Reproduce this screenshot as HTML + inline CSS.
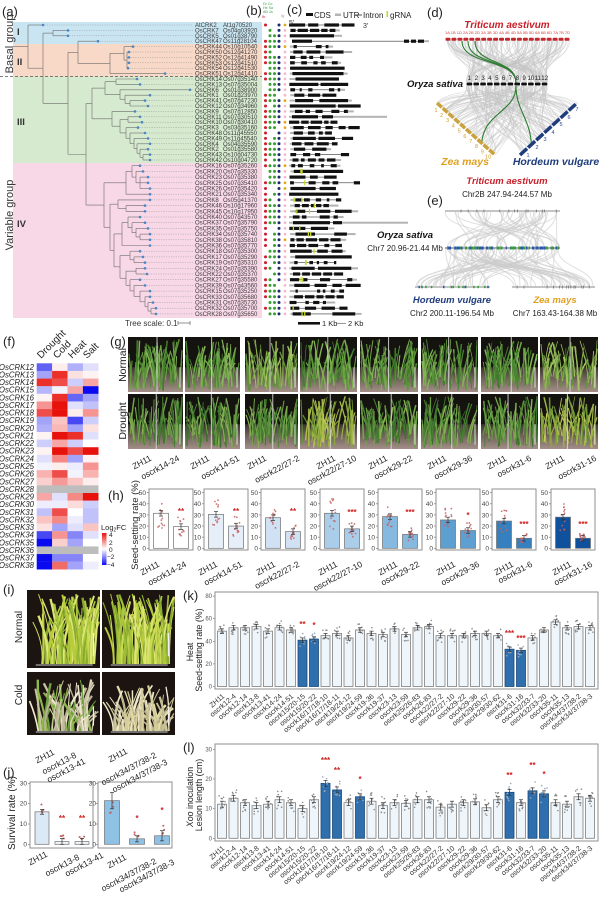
<!DOCTYPE html>
<html><head><meta charset="utf-8"><title>Figure</title>
<style>
html,body{margin:0;padding:0;background:#fff;width:600px;height:898px;overflow:hidden}
svg{display:block}
text{font-family:"Liberation Sans",Arial,sans-serif}
</style></head><body>
<svg id="s" xmlns="http://www.w3.org/2000/svg" width="600" height="898" viewBox="0 0 600 898">
<defs>
<linearGradient id="soil" x1="0" y1="0" x2="0" y2="1"><stop offset="0" stop-color="#3a342e"/><stop offset="0.45" stop-color="#6f625a"/><stop offset="1" stop-color="#a38f88"/></linearGradient>
<linearGradient id="lg" x1="0" y1="0" x2="0" y2="1"><stop offset="0" stop-color="#e8120c"/><stop offset="0.5" stop-color="#ffffff"/><stop offset="1" stop-color="#0a0af5"/></linearGradient>
</defs>
<rect width="600" height="898" fill="#fff"/>
<rect x="13" y="22" width="249" height="22" fill="#c9e5f2"/>
<rect x="13" y="44" width="249" height="32.5" fill="#f8d8c6"/>
<rect x="13" y="76.5" width="249" height="86.5" fill="#d6eacf"/>
<rect x="13" y="163" width="249" height="155" fill="#f8d8e6"/>
<line x1="0" y1="76.5" x2="262" y2="76.5" stroke="#555" stroke-width="0.8" stroke-dasharray="3,2"/>
<g id="g"></g>

<!-- panel letters -->
<g font-size="13" fill="#222">
<text x="2" y="16">(a)</text><text x="246" y="15">(b)</text><text x="287" y="14">(c)</text>
<text x="427" y="17">(d)</text><text x="427" y="205">(e)</text><text x="3" y="346">(f)</text>
<text x="110" y="346">(g)</text><text x="108" y="500">(h)</text><text x="3" y="594">(i)</text>
<text x="3" y="777">(j)</text><text x="183" y="600">(k)</text><text x="183" y="752">(l)</text>
</g>

<!-- (a) labels -->
<text transform="translate(13,44) rotate(-90)" text-anchor="middle" font-size="11" fill="#333">Basal group</text>
<text transform="translate(13,215) rotate(-90)" text-anchor="middle" font-size="11" fill="#333">Variable group</text>
<g font-size="9.5" font-weight="bold" fill="#333">
<text x="17" y="35">I</text><text x="17" y="65">II</text><text x="17" y="125">III</text><text x="17" y="227">IV</text>
</g>
<g font-size="6" fill="#3a3a3a">
<text y="27.0"><tspan x="195">AtCRK2</tspan><tspan x="223">At1g70520</tspan></text>
<text y="32.4"><tspan x="195">OsCRK7</tspan><tspan x="223">Os04g03920</tspan></text>
<text y="37.8"><tspan x="195">OsCRK5</tspan><tspan x="223">Os01g38790</tspan></text>
<text y="43.2"><tspan x="195">OsCRK47</tspan><tspan x="223">Os11g28104</tspan></text>
<text y="48.6"><tspan x="195">OsCRK44</tspan><tspan x="223">Os10g10540</tspan></text>
<text y="54.0"><tspan x="195">OsCRK50</tspan><tspan x="223">Os12g41270</tspan></text>
<text y="59.4"><tspan x="195">OsCRK52</tspan><tspan x="223">Os12g41490</tspan></text>
<text y="64.8"><tspan x="195">OsCRK53</tspan><tspan x="223">Os12g41510</tspan></text>
<text y="70.2"><tspan x="195">OsCRK54</tspan><tspan x="223">Os12g41530</tspan></text>
<text y="75.6"><tspan x="195">OsCRK51</tspan><tspan x="223">Os12g41410</tspan></text>
<text y="81.0"><tspan x="195">OsCRK14</tspan><tspan x="223">Os07g35140</tspan></text>
<text y="86.4"><tspan x="195">OsCRK13</tspan><tspan x="223">Os07g35004</tspan></text>
<text y="91.8"><tspan x="195">OsCRK6</tspan><tspan x="223">Os01g38900</tspan></text>
<text y="97.2"><tspan x="195">OsCRK1</tspan><tspan x="223">Os01g23970</tspan></text>
<text y="102.6"><tspan x="195">OsCRK41</tspan><tspan x="223">Os07g47230</tspan></text>
<text y="108.0"><tspan x="195">OsCRK12</tspan><tspan x="223">Os07g34960</tspan></text>
<text y="113.4"><tspan x="195">OsCRK9</tspan><tspan x="223">Os07g12850</tspan></text>
<text y="118.8"><tspan x="195">OsCRK11</tspan><tspan x="223">Os07g30510</tspan></text>
<text y="124.2"><tspan x="195">OsCRK10</tspan><tspan x="223">Os07g30410</tspan></text>
<text y="129.6"><tspan x="195">OsCRK3</tspan><tspan x="223">Os03g35160</tspan></text>
<text y="135.0"><tspan x="195">OsCRK48</tspan><tspan x="223">Os11g45550</tspan></text>
<text y="140.4"><tspan x="195">OsCRK49</tspan><tspan x="223">Os11g45540</tspan></text>
<text y="145.8"><tspan x="195">OsCRK4</tspan><tspan x="223">Os04g35590</tspan></text>
<text y="151.2"><tspan x="195">OsCRK2</tspan><tspan x="223">Os01g35580</tspan></text>
<text y="156.6"><tspan x="195">OsCRK43</tspan><tspan x="223">Os10g04730</tspan></text>
<text y="162.0"><tspan x="195">OsCRK42</tspan><tspan x="223">Os10g04720</tspan></text>
<text y="167.7"><tspan x="195">OsCRK16</tspan><tspan x="223">Os07g35260</tspan></text>
<text y="173.4"><tspan x="195">OsCRK20</tspan><tspan x="223">Os07g35330</tspan></text>
<text y="179.1"><tspan x="195">OsCRK23</tspan><tspan x="223">Os07g35380</tspan></text>
<text y="184.8"><tspan x="195">OsCRK25</tspan><tspan x="223">Os07g35410</tspan></text>
<text y="190.5"><tspan x="195">OsCRK26</tspan><tspan x="223">Os07g35420</tspan></text>
<text y="196.2"><tspan x="195">OsCRK21</tspan><tspan x="223">Os07g35340</tspan></text>
<text y="201.9"><tspan x="195">OsCRK8</tspan><tspan x="223">Os05g41370</tspan></text>
<text y="207.6"><tspan x="195">OsCRK46</tspan><tspan x="223">Os10g17960</tspan></text>
<text y="213.3"><tspan x="195">OsCRK45</tspan><tspan x="223">Os10g17950</tspan></text>
<text y="219.0"><tspan x="195">OsCRK40</tspan><tspan x="223">Os07g43570</tspan></text>
<text y="224.7"><tspan x="195">OsCRK37</tspan><tspan x="223">Os07g35790</tspan></text>
<text y="230.4"><tspan x="195">OsCRK35</tspan><tspan x="223">Os07g35750</tspan></text>
<text y="236.1"><tspan x="195">OsCRK34</tspan><tspan x="223">Os07g35740</tspan></text>
<text y="241.8"><tspan x="195">OsCRK38</tspan><tspan x="223">Os07g35810</tspan></text>
<text y="247.5"><tspan x="195">OsCRK36</tspan><tspan x="223">Os07g35770</tspan></text>
<text y="253.2"><tspan x="195">OsCRK18</tspan><tspan x="223">Os07g35300</tspan></text>
<text y="258.9"><tspan x="195">OsCRK17</tspan><tspan x="223">Os07g35290</tspan></text>
<text y="264.6"><tspan x="195">OsCRK19</tspan><tspan x="223">Os07g35310</tspan></text>
<text y="270.3"><tspan x="195">OsCRK24</tspan><tspan x="223">Os07g35390</tspan></text>
<text y="276.0"><tspan x="195">OsCRK22</tspan><tspan x="223">Os07g35370</tspan></text>
<text y="281.7"><tspan x="195">OsCRK27</tspan><tspan x="223">Os07g35580</tspan></text>
<text y="287.4"><tspan x="195">OsCRK39</tspan><tspan x="223">Os07g43560</tspan></text>
<text y="293.1"><tspan x="195">OsCRK15</tspan><tspan x="223">Os07g35250</tspan></text>
<text y="298.8"><tspan x="195">OsCRK33</tspan><tspan x="223">Os07g35680</tspan></text>
<text y="304.5"><tspan x="195">OsCRK31</tspan><tspan x="223">Os07g35730</tspan></text>
<text y="310.2"><tspan x="195">OsCRK32</tspan><tspan x="223">Os07g35700</tspan></text>
<text y="315.9"><tspan x="195">OsCRK28</tspan><tspan x="223">Os07g35650</tspan></text>
</g>
<text x="125" y="326" font-size="8" fill="#333">Tree scale: 0.1</text>
<line x1="178" y1="323" x2="190" y2="323" stroke="#777" stroke-width="0.8"/>
<line x1="178" y1="321" x2="178" y2="325" stroke="#777" stroke-width="0.8"/>
<line x1="190" y1="321" x2="190" y2="325" stroke="#777" stroke-width="0.8"/>

<!-- (b) header -->
<g font-size="3.6" fill="#3aa04a">
<text x="263" y="5">Dr Co</text><text x="263" y="9">He Sa</text><text x="263" y="13">AB Ja</text>
</g>
<text x="262" y="18" font-size="4" fill="#d02030">Ib</text>
<text x="281" y="17" font-size="4" fill="#c090a0">Ig</text>

<!-- (c) legend -->
<text x="289" y="25" font-size="7" fill="#333">5'</text>
<rect x="306" y="13" width="7" height="3" fill="#111"/>
<text x="314" y="18" font-size="8" fill="#222">CDS</text>
<rect x="335" y="13.5" width="6" height="2.5" fill="#b3b3b3"/>
<text x="343" y="18" font-size="8" fill="#222">UTR</text>
<line x1="355" y1="15" x2="362" y2="15" stroke="#222" stroke-width="0.8"/>
<text x="363" y="18" font-size="8" fill="#222">Intron</text>
<text x="363" y="28" font-size="7" fill="#333">3'</text>
<rect x="386.5" y="11" width="1.6" height="6" fill="#c6d62e"/>
<text x="390" y="18" font-size="8" fill="#222">gRNA</text>
<rect x="298" y="322" width="22" height="2.6" fill="#111"/>
<text x="322" y="326" font-size="7.5" fill="#222">1 Kb</text>
<line x1="336" y1="323.3" x2="346" y2="323.3" stroke="#666" stroke-width="0.7"/>
<text x="348" y="326" font-size="7.5" fill="#222">2 Kb</text>

<!-- (d) text -->
<text x="507" y="28" text-anchor="middle" font-size="10" font-weight="bold" font-style="italic" fill="#c8202a">Triticum aestivum</text>
<text x="445" y="34" font-size="3.6" fill="#d04040" textLength="125" lengthAdjust="spacingAndGlyphs">1A 1B 1D 2A 2B 2D 3A 3B 3D 4A 4B 4D 5A 5B 5D 6A 6B 6D 7A 7B 7D</text>
<text x="463" y="87" text-anchor="end" font-size="9.5" font-weight="bold" font-style="italic" fill="#111">Oryza sativa</text>
<text y="80" font-size="6.2" text-anchor="middle" fill="#222"><tspan x="469.4">1</tspan><tspan x="476.3">2</tspan><tspan x="483.1">3</tspan><tspan x="489.9">4</tspan><tspan x="496.8">5</tspan><tspan x="503.6">6</tspan><tspan x="510.4">7</tspan><tspan x="517.3">8</tspan><tspan x="524.1">9</tspan><tspan x="530.9">10</tspan><tspan x="537.8">11</tspan><tspan x="544.6">12</tspan></text>
<g font-size="5.5" fill="#d49a2a" text-anchor="middle">
<text x="436" y="112">1</text><text x="441.7" y="117">2</text><text x="447.5" y="122">3</text><text x="453.3" y="127.5">4</text><text x="459.1" y="132.5">5</text><text x="464.9" y="138">6</text><text x="470.7" y="143">7</text><text x="476.5" y="148">8</text><text x="482.3" y="153.5">9</text><text x="488.1" y="158.5">10</text>
</g>
<g font-size="5.5" fill="#2a4a8a" text-anchor="middle">
<text x="528" y="157">1</text><text x="537" y="149">2</text><text x="545" y="141">3</text><text x="553" y="134">4</text><text x="561" y="126">5</text><text x="569" y="119">6</text><text x="577" y="111">7</text>
</g>
<text x="465" y="165" text-anchor="middle" font-size="10.5" font-weight="bold" font-style="italic" fill="#e0a020">Zea mays</text>
<text x="556" y="165" text-anchor="middle" font-size="10.5" font-weight="bold" font-style="italic" fill="#1f3c7c">Hordeum vulgare</text>

<!-- (e) text -->
<text x="507" y="184" text-anchor="middle" font-size="9.5" font-weight="bold" font-style="italic" fill="#c8202a">Triticum aestivum</text>
<text x="507" y="197" text-anchor="middle" font-size="8" fill="#222">Chr2B 247.94-244.57 Mb</text>
<text x="405" y="238" text-anchor="middle" font-size="9.5" font-weight="bold" font-style="italic" fill="#111">Oryza sativa</text>
<text x="405" y="251" text-anchor="middle" font-size="8" fill="#222">Chr7 20.96-21.44 Mb</text>
<text x="452" y="303" text-anchor="middle" font-size="9.5" font-weight="bold" font-style="italic" fill="#1f3c7c">Hordeum vulgare</text>
<text x="452" y="316" text-anchor="middle" font-size="8" fill="#222">Chr2 200.11-196.54 Mb</text>
<text x="555" y="303" text-anchor="middle" font-size="9.5" font-weight="bold" font-style="italic" fill="#e0a020">Zea mays</text>
<text x="555" y="316" text-anchor="middle" font-size="8" fill="#222">Chr7 163.43-164.38 Mb</text>

<!-- (f) heatmap labels -->
<g font-size="10" fill="#222">
<text transform="translate(41,359) rotate(-45)">Drought</text>
<text transform="translate(57,359) rotate(-45)">Cold</text>
<text transform="translate(72,359) rotate(-45)">Heat</text>
<text transform="translate(87,359) rotate(-45)">Salt</text>
</g>
<g font-size="7.8" font-style="italic" fill="#222" text-anchor="end">
<text x="34" y="369.8">OsCRK12</text><text x="34" y="377.4">OsCRK13</text><text x="34" y="385.1">OsCRK14</text><text x="34" y="392.7">OsCRK15</text>
<text x="34" y="400.3">OsCRK16</text><text x="34" y="408.0">OsCRK17</text><text x="34" y="415.6">OsCRK18</text><text x="34" y="423.2">OsCRK19</text>
<text x="34" y="430.8">OsCRK20</text><text x="34" y="438.5">OsCRK21</text><text x="34" y="446.1">OsCRK22</text><text x="34" y="453.7">OsCRK23</text>
<text x="34" y="461.4">OsCRK24</text><text x="34" y="469.0">OsCRK25</text><text x="34" y="476.6">OsCRK26</text><text x="34" y="484.3">OsCRK27</text>
<text x="34" y="491.9">OsCRK28</text><text x="34" y="499.5">OsCRK29</text><text x="34" y="507.1">OsCRK30</text><text x="34" y="514.8">OsCRK31</text>
<text x="34" y="522.4">OsCRK32</text><text x="34" y="530.0">OsCRK33</text><text x="34" y="537.7">OsCRK34</text><text x="34" y="545.3">OsCRK35</text>
<text x="34" y="552.9">OsCRK36</text><text x="34" y="560.6">OsCRK37</text><text x="34" y="568.2">OsCRK38</text>
</g>
<text x="101" y="530" font-size="7.5" fill="#222">Log<tspan font-size="5" dy="1.5">2</tspan><tspan dy="-1.5">FC</tspan></text>
<rect x="102" y="533" width="4.5" height="32" fill="url(#lg)"/>
<g font-size="6.5" fill="#222">
<text x="109" y="537">4</text><text x="109" y="545">2</text><text x="109" y="552">0</text><text x="107" y="559">−2</text><text x="107" y="567">−4</text>
</g>

<!-- (g) labels -->
<text transform="translate(126,365) rotate(-90)" text-anchor="middle" font-size="10.5" fill="#222">Normal</text>
<text transform="translate(126,421) rotate(-90)" text-anchor="middle" font-size="10.5" fill="#222">Drought</text>
<g font-size="8.5" fill="#222" text-anchor="end">
<text transform="translate(152,460) rotate(-28)">ZH11</text><text transform="translate(180,460) rotate(-28)">oscrk14-24</text>
<text transform="translate(210,460) rotate(-28)">ZH11</text><text transform="translate(240,460) rotate(-28)">oscrk14-51</text>
<text transform="translate(267,460) rotate(-28)">ZH11</text><text transform="translate(300,460) rotate(-28)">oscrk22/27-2</text>
<text transform="translate(336,460) rotate(-28)">ZH11</text><text transform="translate(357,460) rotate(-28)">oscrk22/27-10</text>
<text transform="translate(388,460) rotate(-28)">ZH11</text><text transform="translate(413,460) rotate(-28)">oscrk29-22</text>
<text transform="translate(447,460) rotate(-28)">ZH11</text><text transform="translate(473,460) rotate(-28)">oscrk29-36</text>
<text transform="translate(507,460) rotate(-28)">ZH11</text><text transform="translate(532,460) rotate(-28)">oscrk31-6</text>
<text transform="translate(565,460) rotate(-28)">ZH11</text><text transform="translate(597,460) rotate(-28)">oscrk31-16</text>
</g>

<!-- (h) -->
<text transform="translate(138,525) rotate(-90)" text-anchor="middle" font-size="9.5" fill="#222">Seed-setting rate (%)</text>
<g font-size="6.5" fill="#444" text-anchor="end">
<text x="146" y="550.6">0</text><text x="146" y="539.5">10</text><text x="146" y="528.4">20</text><text x="146" y="517.3">30</text><text x="146" y="506.1">40</text><text x="146" y="495.0">50</text>
<text x="201" y="550.6">0</text><text x="201" y="539.5">10</text><text x="201" y="528.4">20</text><text x="201" y="517.3">30</text><text x="201" y="506.1">40</text><text x="201" y="495.0">50</text>
<text x="258" y="550.6">0</text><text x="258" y="539.5">10</text><text x="258" y="528.4">20</text><text x="258" y="517.3">30</text><text x="258" y="506.1">40</text><text x="258" y="495.0">50</text>
<text x="317" y="550.6">0</text><text x="317" y="539.5">10</text><text x="317" y="528.4">20</text><text x="317" y="517.3">30</text><text x="317" y="506.1">40</text><text x="317" y="495.0">50</text>
<text x="375" y="550.6">0</text><text x="375" y="539.5">10</text><text x="375" y="528.4">20</text><text x="375" y="517.3">30</text><text x="375" y="506.1">40</text><text x="375" y="495.0">50</text>
<text x="433" y="550.6">0</text><text x="433" y="539.5">10</text><text x="433" y="528.4">20</text><text x="433" y="517.3">30</text><text x="433" y="506.1">40</text><text x="433" y="495.0">50</text>
<text x="489" y="550.6">0</text><text x="489" y="539.5">10</text><text x="489" y="528.4">20</text><text x="489" y="517.3">30</text><text x="489" y="506.1">40</text><text x="489" y="495.0">50</text>
<text x="548" y="550.6">0</text><text x="548" y="539.5">10</text><text x="548" y="528.4">20</text><text x="548" y="517.3">30</text><text x="548" y="506.1">40</text><text x="548" y="495.0">50</text>
</g>
<g font-size="8" font-weight="bold" fill="#d42020" text-anchor="middle">
<text x="181" y="514">**</text><text x="236" y="514">**</text><text x="293" y="514">**</text><text x="352" y="515">***</text>
<text x="410" y="515">***</text><text x="468" y="518">*</text><text x="524" y="527">***</text><text x="583" y="527">***</text>
</g>
<g font-size="8.5" fill="#222" text-anchor="end">
<text transform="translate(160,566) rotate(-28)">ZH11</text><text transform="translate(187,566) rotate(-28)">oscrk14-24</text>
<text transform="translate(218,566) rotate(-28)">ZH11</text><text transform="translate(243,566) rotate(-28)">oscrk14-51</text>
<text transform="translate(276,566) rotate(-28)">ZH11</text><text transform="translate(300,566) rotate(-28)">oscrk22/27-2</text>
<text transform="translate(338,566) rotate(-28)">ZH11</text><text transform="translate(363,566) rotate(-28)">oscrk22/27-10</text>
<text transform="translate(398,566) rotate(-28)">ZH11</text><text transform="translate(420,566) rotate(-28)">oscrk29-22</text>
<text transform="translate(456,566) rotate(-28)">ZH11</text><text transform="translate(480,566) rotate(-28)">oscrk29-36</text>
<text transform="translate(514,566) rotate(-28)">ZH11</text><text transform="translate(533,566) rotate(-28)">oscrk31-6</text>
<text transform="translate(572,566) rotate(-28)">ZH11</text><text transform="translate(593,566) rotate(-28)">oscrk31-16</text>
</g>

<!-- (i) -->
<text transform="translate(22,627) rotate(-90)" text-anchor="middle" font-size="10" fill="#222">Normal</text>
<text transform="translate(22,695) rotate(-90)" text-anchor="middle" font-size="10" fill="#222">Cold</text>
<g font-size="8.5" fill="#222" text-anchor="end">
<text transform="translate(55,754) rotate(-28)">ZH11</text>
<text transform="translate(77,757) rotate(-28)">oscrk13-8</text>
<text transform="translate(86,763) rotate(-28)">oscrk13-41</text>
<text transform="translate(128,753) rotate(-28)">ZH11</text>
<text transform="translate(157,757) rotate(-28)">oscrk34/37/38-2</text>
<text transform="translate(168,764) rotate(-28)">oscrk34/37/38-3</text>
</g>

<!-- (j) -->
<text transform="translate(15,813) rotate(-90)" text-anchor="middle" font-size="10" fill="#222">Survival rate (%)</text>
<g font-size="6.5" fill="#444" text-anchor="end">
<text x="27" y="846.3">0</text><text x="27" y="826">10</text><text x="27" y="805.7">20</text><text x="27" y="785.4">30</text>
<text x="96" y="846.3">0</text><text x="96" y="826">10</text><text x="96" y="805.7">20</text><text x="96" y="785.4">30</text>
</g>
<g font-size="8" font-weight="bold" fill="#d42020" text-anchor="middle">
<text x="62" y="821">**</text><text x="82" y="821">**</text><text x="137" y="821">*</text><text x="162" y="813">*</text>
</g>
<g font-size="8.5" fill="#222" text-anchor="end">
<text transform="translate(48,856) rotate(-28)">ZH11</text>
<text transform="translate(80,859) rotate(-28)">oscrk13-8</text>
<text transform="translate(104,857) rotate(-28)">oscrk13-41</text>
<text transform="translate(127,859) rotate(-28)">ZH11</text>
<text transform="translate(157,863) rotate(-28)">oscrk34/37/38-2</text>
<text transform="translate(175,864) rotate(-28)">oscrk34/37/38-3</text>
</g>

<!-- (k) -->
<text transform="translate(193,652) rotate(-90)" text-anchor="middle" font-size="8.8" fill="#222">Heat</text>
<text transform="translate(202,650) rotate(-90)" text-anchor="middle" font-size="8.8" fill="#222">Seed-setting rate (%)</text>
<g font-size="6" fill="#555" text-anchor="end">
<text x="212" y="688.5">0</text><text x="212" y="665.9">20</text><text x="212" y="643.3">40</text><text x="212" y="620.7">60</text><text x="212" y="598.1">80</text>
</g>
<g font-size="8" font-weight="bold" fill="#d42020" text-anchor="middle">
<text x="302.5" y="627">**</text><text x="314" y="628">*</text><text x="509.5" y="636">***</text><text x="521" y="641">***</text>
</g>
<g font-size="7.2" fill="#333" text-anchor="end">
<text transform="translate(225,697) rotate(-40)">ZH11</text>
<text transform="translate(236.5,697) rotate(-40)">oscrk12-4</text>
<text transform="translate(248,697) rotate(-40)">oscrk12-14</text>
<text transform="translate(259.5,697) rotate(-40)">oscrk13-8</text>
<text transform="translate(271,697) rotate(-40)">oscrk13-41</text>
<text transform="translate(282.5,697) rotate(-40)">oscrk14-24</text>
<text transform="translate(294,697) rotate(-40)">oscrk14-51</text>
<text transform="translate(305.5,697) rotate(-40)">oscrk15/20-15</text>
<text transform="translate(317,697) rotate(-40)">oscrk15/20-22</text>
<text transform="translate(328.5,697) rotate(-40)">oscrk16/17/18-10</text>
<text transform="translate(340,697) rotate(-40)">oscrk16/17/18-11</text>
<text transform="translate(351.5,697) rotate(-40)">oscrk19/24-12</text>
<text transform="translate(363,697) rotate(-40)">oscrk19/24-59</text>
<text transform="translate(374.5,697) rotate(-40)">oscrk19-36</text>
<text transform="translate(386,697) rotate(-40)">oscrk19-37</text>
<text transform="translate(397.5,697) rotate(-40)">oscrk23-13</text>
<text transform="translate(409,697) rotate(-40)">oscrk23-59</text>
<text transform="translate(420.5,697) rotate(-40)">oscrk25/26-83</text>
<text transform="translate(432,697) rotate(-40)">oscrk26-83</text>
<text transform="translate(443.5,697) rotate(-40)">oscrk22/27-2</text>
<text transform="translate(455,697) rotate(-40)">oscrk22/27-10</text>
<text transform="translate(466.5,697) rotate(-40)">oscrk29-22</text>
<text transform="translate(478,697) rotate(-40)">oscrk29-36</text>
<text transform="translate(489.5,697) rotate(-40)">oscrk29/30-57</text>
<text transform="translate(501,697) rotate(-40)">oscrk29/30-62</text>
<text transform="translate(512.5,697) rotate(-40)">oscrk31-6</text>
<text transform="translate(524,697) rotate(-40)">oscrk31-16</text>
<text transform="translate(535.5,697) rotate(-40)">oscrk32/33-7</text>
<text transform="translate(547,697) rotate(-40)">oscrk32/33-20</text>
<text transform="translate(558.5,697) rotate(-40)">oscrk35-11</text>
<text transform="translate(570,697) rotate(-40)">oscrk35-13</text>
<text transform="translate(581.5,697) rotate(-40)">oscrk34/37/38-2</text>
<text transform="translate(593,697) rotate(-40)">oscrk34/37/38-3</text>
</g>

<!-- (l) -->
<text transform="translate(193,797) rotate(-90)" text-anchor="middle" font-size="8.8" fill="#222"><tspan font-style="italic">Xoo</tspan> inoculation</text>
<text transform="translate(202,795) rotate(-90)" text-anchor="middle" font-size="8.8" fill="#222">Lesion length (cm)</text>
<g font-size="6" fill="#555" text-anchor="end">
<text x="212" y="840.3">0</text><text x="212" y="810.6">10</text><text x="212" y="780.9">20</text><text x="212" y="751.3">30</text>
</g>
<g font-size="8" font-weight="bold" fill="#d42020" text-anchor="middle">
<text x="325.5" y="763">***</text><text x="337" y="773">**</text><text x="360" y="782">*</text><text x="509.5" y="778">**</text><text x="532.5" y="768">**</text><text x="544" y="777">*</text>
</g>
<g font-size="7.2" fill="#333" text-anchor="end">
<text transform="translate(225,849) rotate(-40)">ZH11</text>
<text transform="translate(236.5,849) rotate(-40)">oscrk12-4</text>
<text transform="translate(248,849) rotate(-40)">oscrk12-14</text>
<text transform="translate(259.5,849) rotate(-40)">oscrk13-8</text>
<text transform="translate(271,849) rotate(-40)">oscrk13-41</text>
<text transform="translate(282.5,849) rotate(-40)">oscrk14-24</text>
<text transform="translate(294,849) rotate(-40)">oscrk14-51</text>
<text transform="translate(305.5,849) rotate(-40)">oscrk15/20-15</text>
<text transform="translate(317,849) rotate(-40)">oscrk15/20-22</text>
<text transform="translate(328.5,849) rotate(-40)">oscrk16/17/18-10</text>
<text transform="translate(340,849) rotate(-40)">oscrk16/17/18-11</text>
<text transform="translate(351.5,849) rotate(-40)">oscrk19/24-12</text>
<text transform="translate(363,849) rotate(-40)">oscrk19/24-59</text>
<text transform="translate(374.5,849) rotate(-40)">oscrk19-36</text>
<text transform="translate(386,849) rotate(-40)">oscrk19-37</text>
<text transform="translate(397.5,849) rotate(-40)">oscrk23-13</text>
<text transform="translate(409,849) rotate(-40)">oscrk23-59</text>
<text transform="translate(420.5,849) rotate(-40)">oscrk25/26-83</text>
<text transform="translate(432,849) rotate(-40)">oscrk26-83</text>
<text transform="translate(443.5,849) rotate(-40)">oscrk22/27-2</text>
<text transform="translate(455,849) rotate(-40)">oscrk22/27-10</text>
<text transform="translate(466.5,849) rotate(-40)">oscrk29-22</text>
<text transform="translate(478,849) rotate(-40)">oscrk29-36</text>
<text transform="translate(489.5,849) rotate(-40)">oscrk29/30-57</text>
<text transform="translate(501,849) rotate(-40)">oscrk29/30-62</text>
<text transform="translate(512.5,849) rotate(-40)">oscrk31-6</text>
<text transform="translate(524,849) rotate(-40)">oscrk31-16</text>
<text transform="translate(535.5,849) rotate(-40)">oscrk32/33-7</text>
<text transform="translate(547,849) rotate(-40)">oscrk32/33-20</text>
<text transform="translate(558.5,849) rotate(-40)">oscrk35-11</text>
<text transform="translate(570,849) rotate(-40)">oscrk35-13</text>
<text transform="translate(581.5,849) rotate(-40)">oscrk34/37/38-2</text>
<text transform="translate(593,849) rotate(-40)">oscrk34/37/38-3</text>
</g>
</svg>
<script>
(function(){
var NS="http://www.w3.org/2000/svg";
var G=document.getElementById('g');
function el(t,a){var e=document.createElementNS(NS,t);for(var k in a)e.setAttribute(k,a[k]);G.appendChild(e);return e;}
var sd=12345;function R(){sd=(sd*16807)%2147483647;return (sd-1)/2147483646;}
function ext(a,o){if(o)for(var k in o)a[k]=o[k];return a;}
function ln(x1,y1,x2,y2,s,w,o){return el('line',ext({x1:x1,y1:y1,x2:x2,y2:y2,stroke:s,'stroke-width':w},o));}
function rc(x,y,w,h,f,o){return el('rect',ext({x:x,y:y,width:w,height:h,fill:f},o));}
function ci(x,y,r,f,o){return el('circle',ext({cx:x,cy:y,r:r,fill:f},o));}
function pa(d,s,w,o){return el('path',ext({d:d,fill:'none',stroke:s,'stroke-width':w},o));}
function cl(v,a,b){return v<a?a:(v>b?b:v);}
function f1(v){return v.toFixed(1);}

/* ---------- (a) tree ---------- */
var rowY=[];for(var i=0;i<53;i++)rowY.push(i<=25?25+5.4*i:165.7+5.7*(i-26));
function N(x){return {x:x,c:Array.prototype.slice.call(arguments,1)};}
function L(i,t){return {i:i,t:t};}
function draw(n,px){
 if(n.i!==undefined){var y=rowY[n.i];ln(px,y,n.t,y,'#6b6b6b',0.6);ln(n.t+1.5,y,193,y,'#9a9a9a',0.5,{'stroke-dasharray':'1.2,1.2'});ci(n.t,y,1.3,'#4a87c5');return y;}
 var ys=n.c.map(function(c){return draw(c,n.x);});
 var y0=Math.min.apply(null,ys),y1=Math.max.apply(null,ys);
 ln(n.x,y0,n.x,y1,'#6b6b6b',0.6);var ym=(y0+y1)/2;ln(px,ym,n.x,ym,'#6b6b6b',0.6);return ym;}
var GIII=N(92,
  N(105, N(116,L(10,137),L(11,140)), N(120,L(12,190),N(125,L(13,150),N(130,L(14,145),L(15,148))))),
  N(112, L(16,135),
    N(120, N(128,L(17,140),L(18,142)),
      N(126,L(19,138),N(130,L(20,145),N(134,L(21,148),N(137,L(22,150),N(140,L(23,148),N(143,L(24,150),L(25,150))))))))));
var GIV=N(104,
  N(126, N(132,L(26,140),N(136,L(27,143),N(140,L(28,148),L(29,148),L(30,150)))), L(31,150)),
  N(110,
    N(118,L(32,150),N(126,L(33,145),L(34,145))),
    N(114,
      N(122, N(128,L(35,140),N(132,L(36,145),N(136,L(37,148),N(140,L(38,150),L(39,150))))), L(40,150)),
      N(120,
        N(130,L(41,140),N(134,L(42,143),L(43,145))),
        N(126, N(136,L(44,145),L(45,147)),
          N(130,L(46,140),N(134,L(47,145),N(140,L(48,150),N(145,L(49,150),N(148,L(50,153),N(151,L(51,156),L(52,156))))))))))));
var T=N(28, L(0,43),
  N(43, N(53,L(1,68),L(2,68)),
    N(68, N(78, L(3,98), N(110, N(124,L(4,133),N(127,L(5,129),L(6,129),L(7,129),L(8,128))), L(9,165))),
      N(86, GIII, GIV))));
draw(T,13);

/* ---------- (b) dots + (c) genes ---------- */
function seg(a,b,y,t){if(t)rc(a,y-1.6,b-a,3.2,'#111');else rc(a,y-1,b-a,2,'#b3b3b3');}
function gene(i,y){
 if(i===3){seg(292,312,y,1);ln(312,y,404,y,'#333',.6);seg(404,409,y,1);ln(409,y,411,y,'#333',.6);seg(411,416,y,1);ln(416,y,418,y,'#333',.6);seg(418,424,y,1);seg(424,429,y,0);return;}
 if(i===17){seg(289,292,y,0);seg(292,318,y,1);ln(318,y,322,y,'#333',.6);seg(322,333,y,1);seg(333,387,y,0);return;}
 if(i===36){seg(289,293,y,0);seg(293,330,y,1);ln(330,y,333,y,'#333',.6);seg(333,342,y,1);seg(342,408,y,0);return;}
 var x=289+R()*1.5,end=330+R()*32;
 if(R()<0.5){var l=2+R()*4;seg(x,x+l,y,0);x+=l;}
 var u3=R()<0.6?3+R()*7:0,ce=end-u3,n=1+Math.floor(R()*5),ints=[],it=0,k;
 for(k=0;k<n-1;k++){var li=R()<0.2?8+R()*15:2+R()*5;ints.push(li);it+=li;}
 var avail=ce-x-it;if(avail<n*3){for(k=0;k<ints.length;k++)ints[k]=2;it=2*(n-1);avail=ce-x-it;}
 var w=[],ws=0;for(k=0;k<n;k++){var v=0.5+R();w.push(v);ws+=v;}
 for(k=0;k<n;k++){var le=avail*w[k]/ws;seg(x,x+le,y,1);x+=le;if(k<n-1){ln(x,y,x+ints[k],y,'#333',.6);x+=ints[k];}}
 if(u3)seg(x,x+u3,y,0);
 if(i>=26&&R()<0.55){var m=1+Math.floor(R()*2);for(k=0;k<m;k++)rc(292+R()*22,y-2.4,1.3,4.8,'#c6d62e');}
}
var dc=['#cf1b2b','#37a02e','#37a02e','#1d2b6e'],dx=[265.5,270,274.5,279];
for(i=0;i<53;i++){var y=rowY[i];
 for(var j=0;j<4;j++){if(R()<0.82)ci(dx[j],y,1.5,dc[j]);}
 ci(285,y,1.4,R()<0.18?'#e5a81a':'#f3bccc');
 gene(i,y);}

/* ---------- (d) ---------- */
var k,a,b,t,bx,by;
for(k=0;k<160;k++){a=445+R()*125;b=466+R()*82;pa('M'+f1(a)+' 40 C'+f1(a)+' 62 '+f1(b)+' 62 '+f1(b)+' 82','#c4c4c4',0.7,{opacity:0.5});}
for(k=0;k<90;k++){a=466+R()*82;t=R();bx=437+58*t;by=103+52*t;pa('M'+f1(a)+' 86 C'+f1(a)+' '+f1((86+by)/2)+' '+f1(bx+10)+' '+f1(by-12)+' '+f1(bx)+' '+f1(by),'#c4c4c4',0.7,{opacity:0.5});}
for(k=0;k<90;k++){a=466+R()*82;t=R();bx=520+57*t;by=155-52*t;pa('M'+f1(a)+' 86 C'+f1(a)+' '+f1((86+by)/2)+' '+f1(bx-10)+' '+f1(by-12)+' '+f1(bx)+' '+f1(by),'#c4c4c4',0.7,{opacity:0.5});}
[462,468,475].forEach(function(x){pa('M'+x+' 41 C'+x+' 66 516 58 516 83','#2e7d32',1.1);});
pa('M516 86 C516 112 484 112 481.7 143','#2e7d32',1.1);
pa('M516 86 C516 110 530 118 531.4 144.6','#2e7d32',1.1);
for(k=0;k<21;k++)rc(445+k*5.95+0.5,37.8,5,3,'#c0282e',{rx:1});
for(k=0;k<12;k++)rc(466+k*6.83+0.6,82.5,5.6,3,'#111',{rx:0.8});
ln(437,103,495,155,'#c9a23c',3.5,{'stroke-dasharray':'6.5,1.3'});
ln(520,155,577,103,'#1f3c7c',3.5,{'stroke-dasharray':'9.5,1.5'});

/* ---------- (e) ---------- */
for(k=0;k<45;k++){a=445+R()*115;b=445+R()*115;pa('M'+f1(a)+' 212 C'+f1(a)+' 230 '+f1(b)+' 230 '+f1(b)+' 247','#cccccc',1,{opacity:0.6});}
for(k=0;k<35;k++){a=445+R()*115;b=415+R()*75;pa('M'+f1(a)+' 249 C'+f1(a)+' 268 '+f1(b)+' 268 '+f1(b)+' 286','#cccccc',1,{opacity:0.6});}
for(k=0;k<35;k++){a=445+R()*115;b=512+R()*83;pa('M'+f1(a)+' 249 C'+f1(a)+' 268 '+f1(b)+' 268 '+f1(b)+' 286','#cccccc',1,{opacity:0.6});}
ln(445,211,560,211,'#8a8a8a',1);for(k=0;k<14;k++){a=445+R()*115;ln(a,209.5,a,212.5,'#777',0.8);}
ln(445,248,560,248,'#555',1);for(k=0;k<55;k++)rc(445+R()*113,246.5,1.2+R()*2.5,3,R()<0.5?'#2b59a6':'#3b9a41');
ln(415,287,490,287,'#8a8a8a',1);for(k=0;k<16;k++)rc(415+R()*73,285.8,1.5,2.4,R()<0.5?'#2b59a6':'#3b9a41');
ln(512,287,595,287,'#8a8a8a',1);for(k=0;k<14;k++){a=512+R()*83;ln(a,285.5,a,288.5,'#777',0.8);}

/* ---------- (f) heatmap ---------- */
function col(v){var t=Math.min(1,Math.abs(v)/4),r,g,b;if(v>=0){r=255-23*t;g=255-237*t;b=255-243*t;}else{r=255-245*t;g=255-245*t;b=255-15*t;}return 'rgb('+Math.round(r)+','+Math.round(g)+','+Math.round(b)+')';}
var H=[[-2.6,0.3,-1.3,-0.5],[-1.5,3.5,0.5,0.2],[3.5,3,-0.8,1.5],[-1.2,-0.2,1.5,-4],[0.2,3.5,-2.5,-1.5],[1.8,4,-0.5,-1],[3,4,0.3,1.8],[-1.5,1,-3,-0.8],[-1.3,1.2,-1.5,0.5],[0.2,4,3.5,-0.5],[-0.8,1.5,-0.8,0],[0.2,4,3,4],[-0.5,2,-1.5,0.2],[-0.2,0.3,-0.3,1.8],[1.3,3,-0.2,1.3],[0.8,1.7,1,0.3],null,[1.5,-0.5,2,4],[-0.3,-0.3,0.6,-0.8],[-1,3,0,-1],[1,2,-0.3,-1],[0.5,-1.5,-0.5,1],[-3,1.8,-2,-0.5],[-4,0.8,-1.5,0],null,[-4,-2,-2,0],[-4,2.5,-1.5,-0.3]];
H.forEach(function(row,r){for(var c=0;c<4;c++)rc(36.7+15.4*c,363.3+7.63*r,15.6,7.8,row?col(row[c]):'#bdbdbd');});

/* ---------- (g) photos ---------- */
function photoG(x,y,w,h,dr,i){
 rc(x,y,w,h,'#15130f');rc(x,y+h*0.55,w,h*0.45,'url(#soil)');
 var gs=['#3f7a2c','#5a9438','#6ea844','#4c8732','#84b458'];
 if(dr){gs=(i===3||i===7)?['#86a63a','#aabc48','#6a9438','#9ab244','#c2c85a']:['#467f31','#62993e','#3a702b','#73a34a','#8ab056'];}
 else if(i===2||i===7){gs=['#73a443','#8fb852','#5f9238','#a8c462'];}
 for(var k=0;k<55;k++){var bx=x+2+R()*(w-4),by=y+h*(0.72+R()*0.26),tx=cl(bx+(R()-0.5)*w*0.35,x+1,x+w-1),ty=y+h*(0.04+R()*0.45);
  pa('M'+f1(bx)+' '+f1(by)+' Q'+f1(bx+(tx-bx)*0.2)+' '+f1((by+ty)/2)+' '+f1(tx)+' '+f1(ty),gs[Math.floor(R()*gs.length)],0.6+R()*1.0);}
 var sx=x+w*(0.46+R()*0.08);ln(sx,y,sx,y+h,'#e0e0e0',1,{opacity:0.85});
 ln(x+w-3,y+h*0.55,x+w-3,y+h*0.92,'#eeeeee',0.9);
}
var gc=[[128,183],[185,240],[245,298],[300,357],[360,418],[421,478],[481,538],[540,598]];
gc.forEach(function(c,i){photoG(c[0],337,c[1]-c[0],55,0,i);photoG(c[0],394,c[1]-c[0],55,1,i);});

/* ---------- (i) photos ---------- */
function photoI(x,y,w,h,mode,idx){
 rc(x,y,w,h,'#1b1411');
 var cols,n,t0,t1,x0;
 if(mode==='n'){cols=['#b7cb3b','#cadb55','#9dbd35','#dfe675','#86aa2e','#a9c640'];n=85;t0=0.05;t1=0.5;x0=idx===0?0.2:0.15;}
 else if(idx===0){cols=['#dcd5bb','#eee8d0','#c9c1a2','#b9b390','#6f9f3e','#8fb84a'];n=70;t0=0.1;t1=0.7;x0=0.15;}
 else {cols=['#e6dfa8','#efe9cf','#d6ce9c','#c7c096','#bdb58a'];n=70;t0=0.2;t1=0.75;x0=0.12;}
 for(var k=0;k<n;k++){var bx=x+w*(x0+R()*(0.92-x0)),by=y+h-4,tx=cl(bx+(R()-0.5)*w*0.4,x+1,x+w-1),ty=y+h*(t0+R()*(t1-t0));
  pa('M'+f1(bx)+' '+f1(by)+' Q'+f1(bx+(R()-0.5)*6)+' '+f1((by+ty)/2)+' '+f1(tx)+' '+f1(ty),cols[Math.floor(R()*cols.length)],0.9+R()*1.5);}
 ln(x+w*0.12,y+h-3,x+w*0.9,y+h-3,'#8d8d8d',1.5);
 ln(x+w*0.91,y+h*0.55,x+w*0.91,y+h*0.85,'#f0f0f0',1.2);
}
photoI(27,590,73,78,'n',0);photoI(102,590,73,78,'n',1);
photoI(27,672,73,63,'c',0);photoI(102,672,73,63,'c',1);

/* ---------- bars helper ---------- */
function errbar(cx,yt,yb,c){ln(cx,yt,cx,yb,c,0.7);ln(cx-2,yt,cx+2,yt,c,0.7);ln(cx-2,yb,cx+2,yb,c,0.7);}

/* (h) */
var hp=[149,204,261,320,378,436,492,551],hv=[[31.5,19.5],[30.5,20],[27.5,15],[31.5,17.5],[28.5,12.5],[25.5,16],[24.5,9],[28,9]],hc=['#ffffff','#e6eff9','#cfe1f3','#aacdea','#85b9df','#5e9fd2','#3680c0','#0f519c'];
hp.forEach(function(Lx,p){var y0=548.3,sc=1.112;
 for(var v=0;v<=50;v+=10)ln(Lx-2,y0-v*sc,Lx,y0-v*sc,'#666',0.6);
 [Lx+12,Lx+32].forEach(function(cx,bi){var v=hv[p][bi];rc(cx-7.5,y0-v*sc,15,v*sc,hc[p],{stroke:'#707070','stroke-width':0.7});
  for(var k=0;k<12;k++)ci(cx+(R()-0.5)*7,y0-cl(v+(R()-0.5)*v*0.9,1,52)*sc,0.9,'#c46262',{opacity:0.85});
  errbar(cx,y0-(v+2.5)*sc,y0-(v-2.5)*sc,'#333');});
 rc(Lx,489,44,61,'none',{stroke:'#8f8f8f','stroke-width':1});
});

/* (j) */
var jp=[{L:30,R:93,cs:[42,62,82],w:14,v:[16,1.3,1.3],f:['#dbe9f6','#eef5fb','#eef5fb'],e:[1.2,1.6,1.6]},{L:98,R:172,cs:[112,137,162],w:15,v:[21.5,2.7,4.2],f:['#8fc1e4','#8fc1e4','#8fc1e4'],e:[4,1.5,2.5]}];
jp.forEach(function(p){var y0=844.3,sc=2.03;
 for(var v=0;v<=30;v+=10)ln(p.L-2,y0-v*sc,p.L,y0-v*sc,'#666',0.6);
 p.cs.forEach(function(cx,bi){var v=p.v[bi];rc(cx-p.w/2,y0-v*sc,p.w,v*sc,p.f[bi],{stroke:'#707070','stroke-width':0.7});
  for(var k=0;k<4;k++)ci(cx+(R()-0.5)*5,y0-cl(v+(R()-0.5)*v*0.6+(bi?R()*4:0),0,29)*sc,1,'#c46262');
  errbar(cx,y0-(v+p.e[bi])*sc,y0-Math.max(0,v-p.e[bi])*sc,'#333');});
 rc(p.L,782,p.R-p.L,66,'none',{stroke:'#8f8f8f','stroke-width':1});
});

/* (k),(l) */
function big(vals,dark,y0,sc,spread,err,fy,fh,tk){
 tk.forEach(function(v){ln(213,y0-v*sc,215,y0-v*sc,'#666',0.6);});
 vals.forEach(function(v,i){var cx=222+11.5*i,dk=dark.indexOf(i)>=0;
  rc(cx-4.5,y0-v*sc,9,v*sc,dk?'#2f6fad':'#eef5fb',{stroke:dk?'#1c4a7a':'#7d7d7d','stroke-width':0.8});
  for(var k=0;k<8;k++)ci(cx+(R()-0.5)*6,y0-(v+(R()-0.5)*2*spread)*sc,0.8,dk?'#9ab':'#8c8c8c');
  errbar(cx,y0-(v+err)*sc,y0-(v-err)*sc,'#333');});
 rc(215,fy,383,fh,'none',{stroke:'#8f8f8f','stroke-width':1});
}
big([49,52,52,53,49,52,50,41,42,45,47,43,50,47,46,51,46,52,53,45,45,45,47,47,45,33,32,43,50,57,52,53,52],[7,8,25,26],686.5,1.13,6,2,592,97,[0,20,40,60,80]);
big([11.5,13.5,12,11,11.5,13,12,10,13,18.5,16.3,12,14,12.5,11,12,11.8,13,13,10.5,11.5,12,12.3,10.3,13,15.5,12,16,15,12,11.5,14,13.5],[9,10,12,25,27,28],838.3,2.967,3,1,744,97,[0,10,20,30]);
})();
</script>
</body></html>
